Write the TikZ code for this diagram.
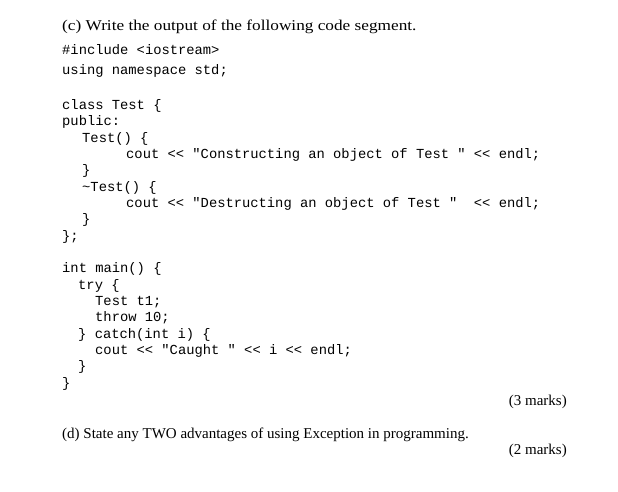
\documentclass[tikz,border=0pt]{standalone}
\usepackage{fontspec}
\setmainfont{Liberation Serif}
\newfontfamily\widefont{Liberation Serif}[FakeStretch=1.15]
\setmonofont{Liberation Mono}
\begin{document}
\begin{tikzpicture}[x=1pt,y=-1pt,
  code/.style={anchor=west,inner sep=0pt,font=\ttfamily\fontsize{13.8}{14}\selectfont},
  txt/.style={anchor=west,inner sep=0pt,font=\fontsize{15}{16}\selectfont}]
\useasboundingbox[fill=white] (0,0) rectangle (618,492);
\node[txt,font=\widefont\fontsize{15}{16}\selectfont] (h1) at (62,27) {(c) Write the output of the following code segment.};
\node[code] (l1) at (62,50) {\#include <iostream>};
\node[code] (l2) at (62,71) {using namespace std;};
\node[code] (l3) at (62,106) {class Test \{};
\node[code] (l4) at (62,122) {public:};
\node[code] (l5) at (82,139) {Test() \{};
\node[code] (l6) at (126,155) {cout << "Constructing an object of Test " << endl;};
\node[code] (l7) at (82,171) {\}};
\node[code] (l8) at (82,188) {\textasciitilde Test() \{};
\node[code] (l9) at (126,204) {cout << "Destructing an object of Test "~~<< endl;};
\node[code] (l10) at (82,220) {\}};
\node[code] (l11) at (62,237) {\};};
\node[code] (l12) at (62,269) {int main() \{};
\node[code] (l13) at (78,286) {try \{};
\node[code] (l14) at (95,302) {Test t1;};
\node[code] (l15) at (95,318) {throw 10;};
\node[code] (l16) at (78,335) {\} catch(int i) \{};
\node[code] (l17) at (95,351) {cout << "Caught " << i << endl;};
\node[code] (l18) at (78,367) {\}};
\node[code] (l19) at (62,384) {\}};
\node[txt,anchor=east] (m1) at (567,402) {(3 marks)};
\node[txt] (h2) at (62,435) {(d) State any TWO advantages of using Exception in programming.};
\node[txt,anchor=east] (m2) at (567,451) {(2 marks)};
\end{tikzpicture}
\end{document}
